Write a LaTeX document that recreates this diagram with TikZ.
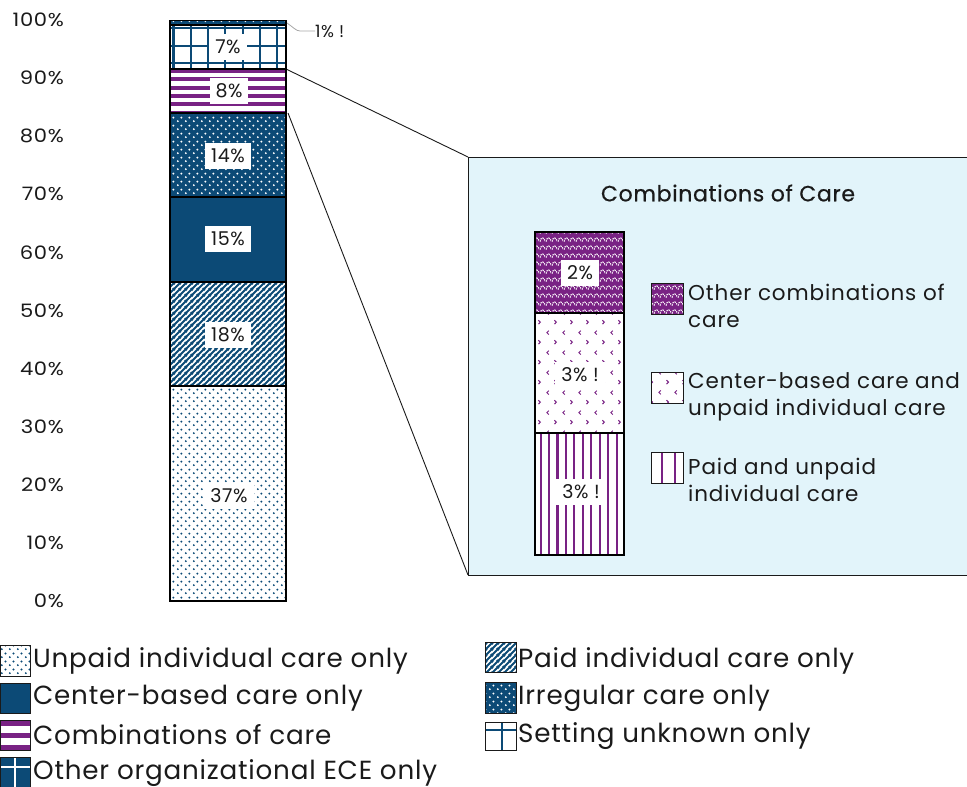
\documentclass[tikz,border=0pt]{standalone}
\usepackage{fontspec}
\usepackage{graphicx}
\setmainfont{Poppins}[LetterSpace=3]
\usetikzlibrary{patterns.meta}
\definecolor{navy}{HTML}{0C4A76}
\definecolor{purp}{HTML}{792284}
\definecolor{pale}{HTML}{E2F4FA}
\definecolor{ink}{HTML}{1A1A1A}
\tikzdeclarepattern{name=udots, type=uncolored,
  bounding box={(0pt,0pt) and (8pt,8pt)}, tile size={(8pt,8pt)},
  code={\fill (2pt,2pt) circle (1.15pt); \fill (6pt,6pt) circle (1.15pt);}}
\tikzdeclarepattern{name=diagl, type=uncolored,
  bounding box={(0pt,0pt) and (6pt,6pt)}, tile size={(6pt,6pt)},
  code={\draw[line width=2.2pt] (-1pt,-1pt)--(7pt,7pt);
        \draw[line width=2.2pt] (-1pt,5pt)--(1pt,7pt);
        \draw[line width=2.2pt] (5pt,-1pt)--(7pt,1pt);}}
\tikzdeclarepattern{name=arches, type=uncolored,
  bounding box={(0pt,0pt) and (6pt,8pt)}, tile size={(6pt,8pt)},
  code={\draw[line width=1.2pt, dash pattern=on 1.6pt off 1.1pt] (0pt,1.5pt) .. controls (0.5pt,7pt) and (5.5pt,7pt) .. (6pt,1.5pt);}}
\tikzdeclarepattern{name=marks, type=uncolored,
  bounding box={(0pt,0pt) and (16pt,20pt)}, tile size={(16pt,20pt)},
  code={\draw[line width=1pt] (5pt,17pt)--(3pt,15pt)--(5pt,13pt);
        \draw[line width=1pt] (11pt,7pt)--(13pt,5pt)--(11pt,3pt);}}
\newcommand\axwide[1]{\scalebox{1.14}[1]{#1}}
\begin{document}
\begin{tikzpicture}[x=1pt,y=-1pt,
  segline/.style={draw=black, line width=1.1pt},
  unpaid/.style={preaction={fill=white}, pattern=udots, pattern color=navy},
  paidind/.style={preaction={fill=white}, pattern=diagl, pattern color=navy},
  center/.style={fill=navy},
  irreg/.style={preaction={fill=navy}, pattern=udots, pattern color=white},
  othercomb/.style={preaction={fill=purp}, pattern=arches, pattern color=white},
  cbunpaid/.style={preaction={fill=white}, pattern=marks, pattern color=purp},
  lab/.style={fill=white, inner xsep=6pt, inner ysep=6pt, text=ink, font=\fontsize{19}{19}\selectfont},
  axlab/.style={anchor=east, text=ink, inner sep=0pt, font=\fontsize{18.5}{18.5}\selectfont},
  legsq/.style={draw=ink, line width=0.8pt},
  legtxt/.style={anchor=west, inner sep=0pt, text=ink, font=\fontsize{26.2}{26.2}\selectfont},
  insettxt/.style={anchor=north west, inner sep=0pt, text=ink, align=left, font=\fontsize{21.5}{27}\selectfont\addfontfeature{LetterSpace=4}},
  conn/.style={draw=ink, line width=0.9pt}]
\useasboundingbox (0,0) rectangle (967,787);

% axis labels
\foreach \p [count=\i from 0] in {0,10,...,100}
  \node[axlab] (ax\i) at (64,{601-5.81*\p}) {\axwide{\p\%}};

% main bar
\path[unpaid]    (170,386) rectangle (286,601);
\path[paidind]   (170,282) rectangle (286,386);
\path[center]    (170,197) rectangle (286,282);
\path[irreg]     (170,113) rectangle (286,197);
% combinations: horizontal purple stripes
\begin{scope}
  \clip (170,69) rectangle (286,113);
  \fill[white] (170,69) rectangle (286,113);
  \foreach \k in {0,...,5} \fill[purp] (170,{68.7+8.4*\k}) rectangle (286,{72.7+8.4*\k});
\end{scope}
% setting unknown: navy grid on white
\begin{scope}
  \clip (170,25) rectangle (286,69);
  \fill[white] (170,25) rectangle (286,69);
  \foreach \k in {0,...,6} \fill[navy] ({172.3+17.3*\k},25) rectangle ({174.5+17.3*\k},69);
  \foreach \yy in {27.2,44.5,61.8} \fill[navy] (170,\yy) rectangle (286,\yy+2.2);
\end{scope}
% other organizational ECE
\path[irreg]  (170,20.5) rectangle (286,25);
\foreach \yy in {386,282,197,113,69,25}
  \draw[segline] (170,\yy) -- (286,\yy);
\draw[segline] (170,20.5) rectangle (286,601);

\node[lab] (l37) at (229,496) {37\%};
\node[lab] (l18) at (228,335) {18\%};
\node[lab] (l15) at (228,239) {15\%};
\node[lab] (l14) at (228,156) {14\%};
\node[lab] (l8)  at (229,91)  {8\%};
\node[lab] (l7)  at (228,47)  {7\%};

% 1% leader
\coordinate (oneTop) at (287,23);
\node[text=ink, anchor=west, inner sep=0pt, font=\fontsize{17}{17}\selectfont] (l1) at (315,31) {1\% !};
\draw[draw=gray!70, line width=0.8pt] (oneTop) .. controls (293,27) and (296,31) .. (300,31) -- (l1.west);

% inset
\coordinate (combTR) at (287,69.5);
\coordinate (combBR) at (288,113);
\coordinate (boxTL) at (468,157);
\coordinate (boxBL) at (468,575);
\draw[fill=pale, draw=ink, line width=1pt] (boxTL) rectangle (975,575);
\draw[conn] (combTR) -- (boxTL);
\draw[conn] (combBR) -- (boxBL);

\node[text=ink, inner sep=0pt, font=\fontsize{22}{22}\selectfont\addfontfeature{FakeBold=0.6}] (title) at (728,193) {Combinations of Care};

% paid and unpaid: purple vertical lines
\begin{scope}
  \clip (535,433) rectangle (624,555);
  \fill[white] (535,433) rectangle (624,555);
  \foreach \k in {0,...,9} \fill[purp] ({539.5+8.45*\k},433) rectangle ({541.6+8.45*\k},555);
\end{scope}
\path[cbunpaid]   (535,313) rectangle (624,433);
\path[othercomb]  (535,232) rectangle (624,313);
\draw[segline] (535,313) -- (624,313);
\draw[segline] (535,433) -- (624,433);
\draw[segline] (535,232) rectangle (624,555);
\node[lab] (i2) at (580,273) {2\%};
\node[lab] (i3a) at (580,375) {3\% !};
\node[lab] (i3b) at (581,492) {3\% !};

% inset legend
\path[othercomb, legsq] (651,283) rectangle (683,314);
\node[insettxt] (t1) at (688,284) {Other combinations of\\care};
\path[cbunpaid, legsq] (651,372) rectangle (683,403);
\node[insettxt] (t2) at (688,372) {Center-based care and\\unpaid individual care};
\fill[white] (651,452) rectangle (683,483);
\fill[purp] (660.7,452) rectangle (662.9,483);
\fill[purp] (674,452) rectangle (676.2,483);
\draw[legsq] (651,452) rectangle (683,483);
\node[insettxt] (t3) at (688,458) {Paid and unpaid\\individual care};

% bottom legend
\path[unpaid, legsq]   (0.5,645) rectangle (30,676);
\node[legtxt] (b1) at (33,661) {Unpaid individual care only};
\path[center, legsq]   (0.5,683) rectangle (30,713);
\node[legtxt] (b2) at (33,698) {Center-based care only};
\fill[white] (0.5,720) rectangle (30,750);
\foreach \yy in {720,732.5,745} \fill[purp] (0.5,\yy) rectangle (30,\yy+5.5);
\draw[legsq] (0.5,720) rectangle (30,750);
\node[legtxt] (b3) at (33,735) {Combinations of care};
\fill[navy] (0.5,757) rectangle (30,787);
\fill[white] (14,757) rectangle (16.2,787);
\fill[white] (0.5,766) rectangle (30,768.2);
\draw[legsq] (0.5,757) rectangle (30,787);
\node[legtxt] (b4) at (33,773) {Other organizational ECE only};

\path[paidind, legsq]  (485,642) rectangle (516,672);
\node[legtxt] (c1) at (518,661) {Paid individual care only};
\path[irreg, legsq]    (485,682) rectangle (516,713);
\node[legtxt] (c2) at (518,698) {Irregular care only};
\fill[white] (485,722) rectangle (516,750);
\fill[navy] (500.5,722) rectangle (502.7,750);
\fill[navy] (485,729) rectangle (516,731.2);
\draw[legsq] (485,722) rectangle (516,750);
\node[legtxt] (c3) at (518,736) {Setting unknown only};
\end{tikzpicture}
\end{document}
